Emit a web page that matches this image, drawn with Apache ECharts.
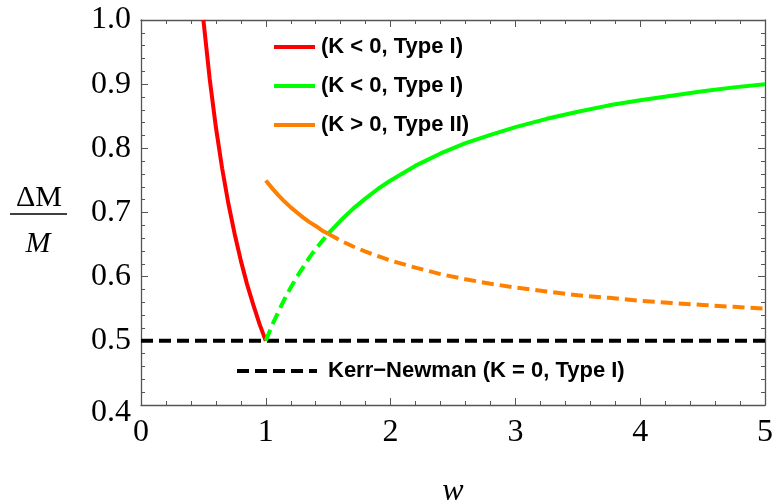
<!DOCTYPE html>
<html>
<head>
<meta charset="utf-8">
<script src="https://cdn.jsdelivr.net/npm/echarts@6/dist/echarts.min.js"></script>
<style>html,body{margin:0;padding:0;background:#fff}#c{width:774px;height:503px}</style>
</head>
<body>
<div id="c"></div>
<script>
// ---- data ----
const redW   = [0.5, 0.55, 0.6, 0.65, 0.7, 0.75, 0.8, 0.85, 0.9, 0.95, 1.0];
const redVal = [1.0, 0.909, 0.833, 0.769, 0.714, 0.667, 0.625, 0.588, 0.556, 0.526, 0.5];

const nearW        = [1.0, 1.05, 1.1, 1.15, 1.2, 1.25, 1.3, 1.35, 1.4, 1.45, 1.5];
const greenNearVal = [0.5, 0.524, 0.545, 0.565, 0.583, 0.6, 0.615, 0.630, 0.643, 0.655, 0.667];
const orangeNearVal= [0.75, 0.738, 0.727, 0.717, 0.708, 0.7, 0.692, 0.685, 0.679, 0.672, 0.667];

const farW         = [1.5, 1.6, 1.7, 1.8, 1.9, 2.0, 2.2, 2.4, 2.6, 2.8, 3.0, 3.25, 3.5, 3.75, 4.0, 4.25, 4.5, 4.75, 5.0];
const greenFarVal  = [0.667, 0.6875, 0.706, 0.722, 0.737, 0.75, 0.773, 0.792, 0.808, 0.821, 0.833, 0.846, 0.857, 0.867, 0.875, 0.882, 0.889, 0.895, 0.9];
const orangeFarVal = [0.667, 0.656, 0.647, 0.639, 0.632, 0.625, 0.614, 0.604, 0.596, 0.589, 0.583, 0.577, 0.571, 0.567, 0.5625, 0.559, 0.556, 0.553, 0.55];

const knW   = [0, 5];
const knVal = [0.5, 0.5];

const legendLabels = {
  red: '(K < 0, Type I)',
  green: '(K < 0, Type I)',
  orange: '(K > 0, Type II)',
  kn: 'Kerr\u2212Newman (K = 0, Type I)'
};
const xLabel = 'w';
const yTop = '\u0394M';
const yBottom = 'M';

function pairs(xs, ys) { return xs.map((x, i) => [x, ys[i]]); }

const RED = '#ff0000', GREEN = '#00ff00', ORANGE = '#ff8000';
const AXC = '#555555';
const serif = '"Liberation Serif","Times New Roman",serif';
const sans = '"Liberation Sans",Arial,sans-serif';

const chart = echarts.init(document.getElementById('c'), null, {renderer: 'canvas'});

function xAx(pos, labels) {
  return {
    type: 'value', position: pos, min: 0, max: 5, interval: 1,
    axisLine: {show: true, onZero: false, lineStyle: {color: AXC, width: 1.3}},
    axisTick: {show: true, inside: true, length: 7, lineStyle: {color: AXC, width: 1}},
    minorTick: {show: true, splitNumber: 5, length: 4, lineStyle: {color: AXC, width: 1}},
    splitLine: {show: false}, minorSplitLine: {show: false},
    axisLabel: labels ? {show: true, margin: 12, color: '#000', fontFamily: serif, fontSize: 32} : {show: false},
    name: labels ? xLabel : '', nameLocation: 'middle', nameGap: 71,
    nameTextStyle: {fontFamily: serif, fontStyle: 'italic', fontSize: 32, color: '#000'}
  };
}
function yAx(pos, labels) {
  return {
    type: 'value', position: pos, min: 0.4, max: 1.0, interval: 0.1,
    axisLine: {show: true, onZero: false, lineStyle: {color: AXC, width: 1.3}},
    axisTick: {show: true, inside: true, length: 7, lineStyle: {color: AXC, width: 1}},
    minorTick: {show: true, splitNumber: 5, length: 4, lineStyle: {color: AXC, width: 1}},
    splitLine: {show: false}, minorSplitLine: {show: false},
    axisLabel: labels ? {
      show: true, margin: 10, color: '#000', fontFamily: serif, fontSize: 32,
      formatter: v => (Math.abs(v - 0.4) < 1e-6 ? '{low|' + v.toFixed(1) + '}' : v.toFixed(1)),
      rich: {low: {fontFamily: serif, fontSize: 32, color: '#000', padding: [16, 0, 0, 0]}}
    } : {show: false}
  };
}

function lineSeries(id, data, color, dashed) {
  return {
    type: 'line', name: id, data: data, xAxisIndex: 0, yAxisIndex: 0,
    showSymbol: false, symbol: 'none', smooth: false, silent: true,
    lineStyle: {color: color, width: 4, type: dashed ? [12, 6] : 'solid', cap: 'butt'},
    itemStyle: {color: color}, z: 3
  };
}

const legendCommon = {
  orient: 'vertical', selectedMode: false, itemHeight: 21,
  itemStyle: {opacity: 0, borderWidth: 0},
  lineStyle: {width: 4, inactiveWidth: 4},
  formatter: n => legendLabels[n]
};

const option = {
  backgroundColor: '#fff',
  animation: false,
  grid: {left: 141, right: 9, top: 20, bottom: 98, containLabel: false, outerBoundsMode: 'none'},
  xAxis: [xAx('bottom', true), xAx('top', false)],
  yAxis: [yAx('left', true), yAx('right', false)],
  legend: [
    Object.assign({}, legendCommon, {
      data: ['red', 'green', 'orange'], left: 267, top: 31,
      itemWidth: 41, itemGap: 17,
      textStyle: {fontFamily: sans, fontWeight: 'bold', fontSize: 22, color: '#000', padding: [0, 0, 0, 1]}
    }),
    Object.assign({}, legendCommon, {
      data: ['kn'], left: 230, top: 355,
      itemWidth: 80,
      textStyle: {fontFamily: sans, fontWeight: 'bold', fontSize: 22, color: '#000', padding: [0, 0, 0, 6]}
    })
  ],
  series: [
    lineSeries('kn', pairs(knW, knVal), '#000', true),
    lineSeries('red', pairs(redW, redVal), RED, false),
    lineSeries('greenDash', pairs(nearW, greenNearVal), GREEN, true),
    lineSeries('green', pairs(farW, greenFarVal), GREEN, false),
    lineSeries('orange', pairs(nearW, orangeNearVal), ORANGE, false),
    lineSeries('orangeDash', pairs(farW, orangeFarVal), ORANGE, true)
  ],
  graphic: [
    {type: 'text', x: 39, y: 198, style: {text: yTop, font: '30px ' + serif, fill: '#000', align: 'center', verticalAlign: 'middle'}},
    {type: 'line', shape: {x1: 10, y1: 214, x2: 67, y2: 214}, style: {stroke: '#000', lineWidth: 1.5}},
    {type: 'text', x: 38, y: 244, style: {text: yBottom, font: 'italic 30px ' + serif, fill: '#000', align: 'center', verticalAlign: 'middle'}}
  ]
};
chart.setOption(option);
</script>
</body>
</html>
